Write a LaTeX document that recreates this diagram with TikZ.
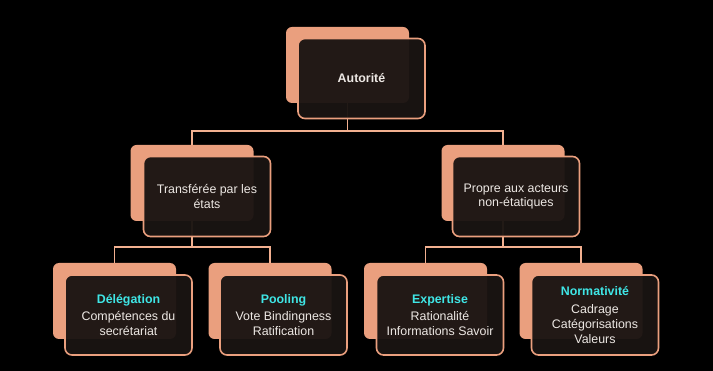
\documentclass[tikz,border=0pt]{standalone}
\usepackage{fontspec}
\setmainfont{Liberation Sans}
\usetikzlibrary{positioning}
\definecolor{salmon}{HTML}{EA9F7E}
\definecolor{lnsalmon}{HTML}{F2B090}
\definecolor{dkfill}{HTML}{1A1412}
\definecolor{cyanhl}{HTML}{3FE6E6}
\definecolor{offwhite}{HTML}{EDE8E4}

\begin{document}
\begin{tikzpicture}[x=1pt, y=-1pt,
  backbox/.style={fill=salmon, rounded corners=6pt, minimum width=123pt, minimum height=76pt, inner sep=0pt},
  frontbox/.style={draw=salmon, line width=1.6pt, fill=dkfill, fill opacity=0.96, text opacity=1,
    rounded corners=7pt, minimum width=127pt, minimum height=80pt, inner sep=0pt,
    text=offwhite, align=center, font=\fontsize{12.4}{14.8}\selectfont},
  link/.style={draw=lnsalmon, line width=1.8pt}]

% Background
\fill[black] (0,0) rectangle (713,371);

% Back boxes
\node[backbox] (autb) at (347.5,65) {};
\node[backbox] (transb) at (192,183) {};
\node[backbox] (propb) at (503,183) {};
\node[backbox] (delegb) at (114.5,301) {};
\node[backbox] (poolb) at (270,301) {};
\node[backbox] (expb) at (425.5,301) {};
\node[backbox] (normb) at (581,301) {};

% Connectors
\draw[link] (autb.south) -- ++(0,28) coordinate (autbar) -| (transb.north);
\draw[link] (autbar) -| (propb.north);
\draw[link] (transb.south) -- ++(0,26) coordinate (transbar) -| (delegb.north);
\draw[link] (transbar) -| (poolb.north);
\draw[link] (propb.south) -- ++(0,26) coordinate (propbar) -| (expb.north);
\draw[link] (propbar) -| (normb.north);

% Front boxes
\node[frontbox] (autf) at ([shift={(14,13.5)}]autb) {\textbf{Autorité}};
\node[frontbox] (transf) at ([shift={(15,13.5)}]transb) {Transférée par les\\états};
\node[frontbox] (propf) at ([shift={(13,13.5)}]propb) {Propre aux acteurs\\non-étatiques};
\node[frontbox] (delegf) at ([shift={(14,14)}]delegb) {{\color{cyanhl}\bfseries Délégation}\\[3pt]Compétences du\\secrétariat};
\node[frontbox] (poolf) at ([shift={(13.5,14)}]poolb) {{\color{cyanhl}\bfseries Pooling}\\[3pt]Vote Bindingness\\Ratification};
\node[frontbox] (expf) at ([shift={(14.5,14)}]expb) {{\color{cyanhl}\bfseries Expertise}\\[3pt]Rationalité\\Informations Savoir};
\node[frontbox] (normf) at ([shift={(14,14)}]normb) {{\color{cyanhl}\bfseries Normativité}\\[3pt]Cadrage\\Catégorisations\\Valeurs};

\end{tikzpicture}
\end{document}
